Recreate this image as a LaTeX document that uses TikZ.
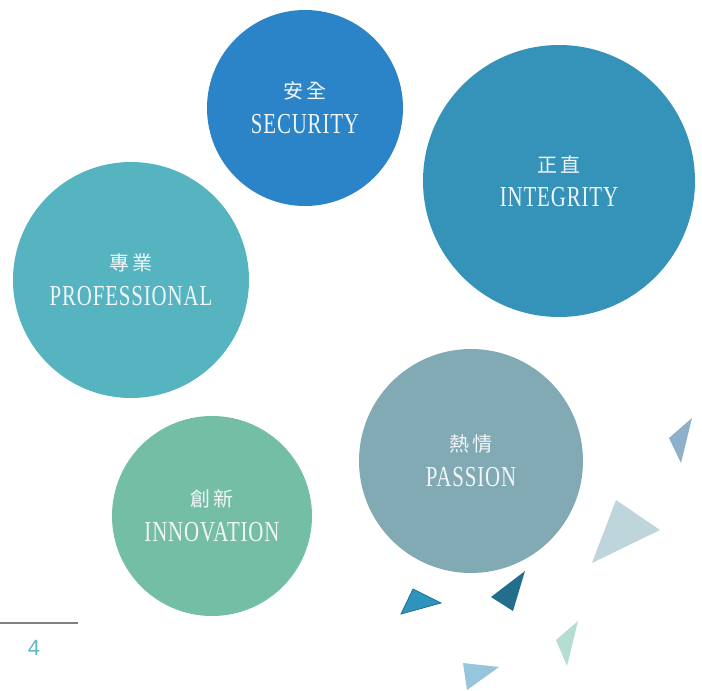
\documentclass[tikz,border=0pt]{standalone}
\usepackage{fontspec}
\newfontfamily\cjkf{Noto Sans CJK TC}
\newfontfamily\latinf[FakeStretch=0.72,LetterSpace=3]{Liberation Serif}
\setmainfont{Liberation Sans}
\definecolor{cSec}{HTML}{2A84C7}
\definecolor{cInt}{HTML}{3593BA}
\definecolor{cPro}{HTML}{55B4BF}
\definecolor{cPas}{HTML}{82AAB5}
\definecolor{cInn}{HTML}{74BEA5}
\definecolor{txt}{HTML}{F2F6F8}
\definecolor{tA}{HTML}{8EB0CB}
\definecolor{tB}{HTML}{BFD5DC}
\definecolor{tC}{HTML}{236E8C}
\definecolor{tD}{HTML}{2E93BD}
\definecolor{tE}{HTML}{B5DDD3}
\definecolor{tF}{HTML}{96C6DC}
\definecolor{pnum}{HTML}{5BB8C4}
\newcommand{\lbl}[2]{{\cjkf\fontsize{20}{20}\selectfont #1}\\[13pt]{\latinf\fontsize{29}{29}\selectfont #2}}
\begin{document}
\begin{tikzpicture}[x=1pt,y=1pt,
  bubble/.style={circle,inner sep=0pt,text=txt,align=center}]
\useasboundingbox (0,0) rectangle (702,-691);
\node[bubble,fill=cSec,minimum size=196pt] (sec) at (305,-108) {\lbl{安\,全}{SECURITY}};
\node[bubble,fill=cInt,minimum size=272pt] (int) at (559,-181) {\lbl{正\,直}{INTEGRITY}};
\node[bubble,fill=cPro,minimum size=236pt] (pro) at (131,-280) {\lbl{專\,業}{PROFESSIONAL}};
\node[bubble,fill=cPas,minimum size=224pt] (pas) at (471,-461) {\lbl{熱\,情}{PASSION}};
\node[bubble,fill=cInn,minimum size=200pt] (inn) at (212,-516) {\lbl{創\,新}{INNOVATION}};
% triangles
\fill[tA] (669,-438) -- (692,-418) -- (681,-463) -- cycle;
\fill[tB] (616,-500) -- (660,-530) -- (592,-563) -- cycle;
\fill[tC] (525,-571) -- (491,-597) -- (513,-611) -- cycle;
\fill[tD,draw=tC,line width=0.8pt] (413,-589) -- (441,-603) -- (401,-614) -- cycle;
\fill[tE] (578,-621) -- (556,-640) -- (567,-666) -- cycle;
\fill[tF] (463,-663) -- (499,-667) -- (467,-690) -- cycle;
% page number
\coordinate (l1) at (0,-623);
\coordinate (l2) at (78,-623);
\draw[gray,line width=2pt] (l1) -- (l2);
\node[text=pnum,font=\fontsize{22}{22}\selectfont] (pg) at (34,-648) {4};
\end{tikzpicture}
\end{document}
